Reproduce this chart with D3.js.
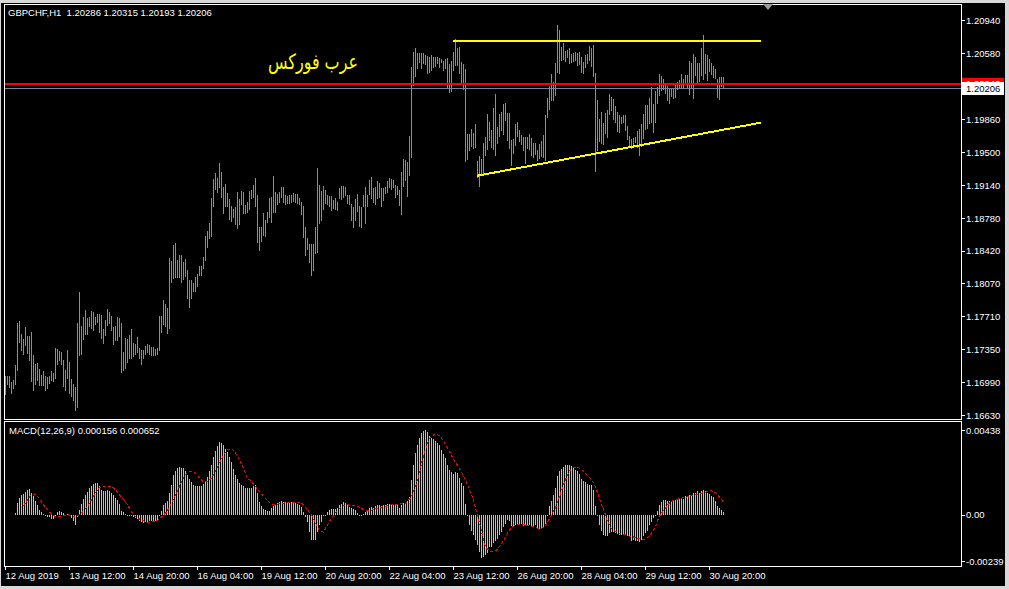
<!DOCTYPE html>
<html>
<head>
<meta charset="utf-8">
<script src="https://cdn.jsdelivr.net/npm/d3@7"></script>
<style>
html, body { margin: 0; padding: 0; background: #000; overflow: hidden; }
svg { display: block; }
svg text { font-family: "Liberation Sans", Arial, sans-serif; font-size: 9.5px; fill: #fff; white-space: pre; }
</style>
</head>
<body>
<svg id="chart" width="1009" height="589"></svg>
<script>
// ---- GBPCHF H1, 12 Aug 2019 04:00 .. 30 Aug 2019 (one entry per hourly bar) ----
const barHigh = [
1.1706,1.1706,1.1706,1.1699,1.1701,1.1718,1.1763,1.1766,1.1751,1.1746,
1.1759,1.1749,1.1749,1.1754,1.1728,1.1719,1.1720,1.1713,1.1707,1.1711,
1.1706,1.1704,1.1706,1.1711,1.1709,1.1736,1.1735,1.1733,1.1732,1.1723,
1.1712,1.1734,1.1721,1.1702,1.1697,1.1694,1.1763,1.1797,1.1760,1.1770,
1.1778,1.1769,1.1770,1.1776,1.1775,1.1770,1.1773,1.1773,1.1772,1.1757,
1.1767,1.1779,1.1775,1.1771,1.1759,1.1760,1.1770,1.1769,1.1763,1.1732,
1.1747,1.1746,1.1750,1.1757,1.1742,1.1740,1.1748,1.1736,1.1734,1.1734,
1.1738,1.1740,1.1739,1.1737,1.1737,1.1735,1.1736,1.1771,1.1771,1.1788,
1.1784,1.1780,1.1834,1.1831,1.1849,1.1851,1.1832,1.1838,1.1838,1.1830,
1.1833,1.1821,1.1810,1.1810,1.1807,1.1814,1.1817,1.1826,1.1826,1.1835,
1.1858,1.1864,1.1873,1.1900,1.1921,1.1927,1.1922,1.1938,1.1928,1.1912,
1.1915,1.1905,1.1899,1.1891,1.1888,1.1890,1.1906,1.1899,1.1907,1.1906,
1.1892,1.1895,1.1907,1.1909,1.1914,1.1922,1.1903,1.1868,1.1868,1.1883,
1.1876,1.1885,1.1900,1.1901,1.1924,1.1906,1.1904,1.1906,1.1912,1.1912,
1.1903,1.1902,1.1903,1.1903,1.1905,1.1904,1.1904,1.1900,1.1895,1.1891,
1.1868,1.1856,1.1850,1.1850,1.1850,1.1868,1.1933,1.1914,1.1907,1.1913,
1.1909,1.1903,1.1902,1.1902,1.1898,1.1900,1.1895,1.1911,1.1913,1.1913,
1.1912,1.1903,1.1903,1.1893,1.1890,1.1899,1.1904,1.1891,1.1890,1.1903,
1.1912,1.1903,1.1919,1.1923,1.1911,1.1912,1.1918,1.1916,1.1911,1.1911,
1.1912,1.1918,1.1922,1.1921,1.1919,1.1914,1.1913,1.1909,1.1928,1.1942,
1.1941,1.1939,1.1967,1.2043,1.2059,1.2063,1.2058,1.2058,1.2058,1.2058,
1.2056,1.2055,1.2054,1.2056,1.2054,1.2054,1.2054,1.2053,1.2051,1.2049,
1.2051,1.2053,1.2046,1.2049,1.2059,1.2073,1.2063,1.2065,1.2048,1.2046,
1.2041,1.1970,1.1970,1.1975,1.1971,1.1981,1.1940,1.1946,1.1942,1.1960,
1.1966,1.1991,1.1983,1.1974,1.1998,1.2013,1.1977,1.1991,1.1994,1.2002,
1.2003,1.1993,1.1993,1.1963,1.1964,1.1981,1.1983,1.1974,1.1969,1.1966,
1.1966,1.1966,1.1970,1.1965,1.1960,1.1960,1.1952,1.1959,1.1962,1.1969,
1.1990,1.2009,1.2022,1.2035,1.2026,1.2047,1.2089,1.2083,1.2065,1.2069,
1.2060,1.2061,1.2063,1.2057,1.2058,1.2059,1.2058,1.2059,1.2054,1.2048,
1.2056,1.2057,1.2066,1.2063,1.2067,1.2036,1.2007,1.1986,1.1994,1.1982,
1.1993,1.1996,1.2013,1.2010,1.2008,1.2000,1.1994,1.1990,1.1988,1.1990,
1.1990,1.1978,1.1967,1.1964,1.1965,1.1966,1.1973,1.1975,1.1981,1.1991,
1.2001,1.2001,1.2009,1.2021,1.2002,1.2017,1.2021,1.2035,1.2033,1.2030,
1.2023,1.2022,1.2020,1.2019,1.2020,1.2024,1.2026,1.2029,1.2035,1.2030,
1.2034,1.2034,1.2049,1.2047,1.2057,1.2054,1.2047,1.2047,1.2063,1.2078,
1.2057,1.2056,1.2051,1.2047,1.2044,1.2041,1.2030,1.2032,1.2032,1.20315
];
const barLow = [
1.1686,1.1697,1.1694,1.1687,1.1693,1.1697,1.1712,1.1743,1.1734,1.1730,
1.1739,1.1731,1.1723,1.1700,1.1690,1.1697,1.1701,1.1696,1.1696,1.1696,
1.1690,1.1693,1.1698,1.1701,1.1700,1.1703,1.1719,1.1723,1.1719,1.1695,
1.1690,1.1703,1.1687,1.1684,1.1679,1.1668,1.1672,1.1728,1.1730,1.1746,
1.1751,1.1751,1.1760,1.1758,1.1756,1.1762,1.1764,1.1754,1.1747,1.1742,
1.1750,1.1761,1.1763,1.1756,1.1740,1.1745,1.1745,1.1749,1.1710,1.1712,
1.1714,1.1721,1.1725,1.1725,1.1727,1.1730,1.1732,1.1725,1.1719,1.1725,
1.1730,1.1732,1.1730,1.1728,1.1728,1.1728,1.1730,1.1734,1.1754,1.1762,
1.1760,1.1752,1.1758,1.1808,1.1812,1.1814,1.1814,1.1814,1.1808,1.1811,
1.1815,1.1791,1.1781,1.1791,1.1798,1.1798,1.1804,1.1816,1.1816,1.1823,
1.1832,1.1846,1.1856,1.1858,1.1891,1.1910,1.1906,1.1912,1.1901,1.1883,
1.1891,1.1891,1.1877,1.1875,1.1879,1.1871,1.1867,1.1871,1.1893,1.1883,
1.1883,1.1885,1.1888,1.1900,1.1901,1.1891,1.1852,1.1843,1.1853,1.1859,
1.1858,1.1874,1.1879,1.1874,1.1885,1.1885,1.1893,1.1895,1.1901,1.1895,
1.1893,1.1894,1.1894,1.1895,1.1897,1.1895,1.1894,1.1893,1.1882,1.1857,
1.1838,1.1844,1.1830,1.1816,1.1821,1.1840,1.1841,1.1873,1.1876,1.1888,
1.1894,1.1893,1.1891,1.1887,1.1889,1.1888,1.1887,1.1900,1.1899,1.1901,
1.1903,1.1894,1.1893,1.1876,1.1868,1.1876,1.1886,1.1869,1.1868,1.1891,
1.1873,1.1891,1.1904,1.1900,1.1895,1.1893,1.1900,1.1901,1.1891,1.1898,
1.1905,1.1906,1.1912,1.1910,1.1912,1.1901,1.1904,1.1892,1.1882,1.1913,
1.1919,1.1902,1.1925,1.1945,1.2023,1.2033,1.2042,1.2048,1.2042,1.2047,
1.2046,1.2036,1.2037,1.2039,1.2043,1.2044,1.2047,1.2043,1.2048,1.2039,
1.2042,1.2020,1.2015,1.2017,1.2039,1.2045,1.2045,1.2036,1.2024,1.2019,
1.1940,1.1942,1.1952,1.1957,1.1954,1.1955,1.1923,1.1913,1.1925,1.1926,
1.1947,1.1953,1.1963,1.1955,1.1953,1.1947,1.1960,1.1967,1.1974,1.1970,
1.1985,1.1963,1.1954,1.1936,1.1949,1.1958,1.1967,1.1962,1.1959,1.1952,
1.1938,1.1954,1.1953,1.1947,1.1945,1.1948,1.1941,1.1943,1.1946,1.1945,
1.1941,1.1988,1.1997,1.2007,1.2007,1.2012,1.2037,1.2036,1.2050,1.2051,
1.2049,1.2054,1.2047,1.2048,1.2049,1.2050,1.2045,1.2046,1.2037,1.2036,
1.2043,1.2047,1.2050,1.2044,1.2033,1.1929,1.1952,1.1962,1.1960,1.1959,
1.1971,1.1966,1.1991,1.1996,1.1986,1.1983,1.1973,1.1972,1.1982,1.1983,
1.1974,1.1964,1.1955,1.1954,1.1957,1.1961,1.1955,1.1947,1.1957,1.1965,
1.1975,1.1976,1.1982,1.1983,1.1972,1.1983,1.2003,1.2012,1.2018,1.2019,
1.2014,1.2007,1.2003,1.2011,1.2009,1.2010,1.2019,1.2021,1.2021,1.2021,
1.2024,1.2020,1.2013,1.2021,1.2009,1.2034,1.2024,1.2027,1.2034,1.2030,
1.2036,1.2029,1.2038,1.2035,1.2032,1.2031,1.2010,1.2008,1.2022,1.20193
];

// MACD(12,26,9): main line (histogram) and signal line
const macdMain = [
null,null,null,null,null,0.00007,0.00062,0.00086,0.00100,0.00108,
0.00120,0.00129,0.00134,0.00112,0.00095,0.00072,0.00052,0.00026,0.00014,0.00003,
-0.00007,-0.00010,-0.00014,-0.00021,-0.00024,0.00001,0.00014,0.00019,0.00014,0.00007,
0.00001,0.00003,-0.00007,-0.00017,-0.00031,-0.00055,-0.00014,0.00026,0.00057,0.00079,
0.00100,0.00117,0.00138,0.00151,0.00158,0.00162,0.00163,0.00148,0.00127,0.00124,
0.00124,0.00127,0.00124,0.00115,0.00101,0.00086,0.00077,0.00055,0.00021,0.00012,
0.00005,-0.00001,-0.00003,-0.00007,-0.00010,-0.00017,-0.00024,-0.00034,-0.00040,-0.00041,
-0.00038,-0.00038,-0.00034,-0.00034,-0.00033,-0.00033,-0.00026,-0.00009,0.00021,0.00048,
0.00062,0.00072,0.00112,0.00155,0.00207,0.00227,0.00241,0.00248,0.00244,0.00241,
0.00224,0.00203,0.00184,0.00169,0.00155,0.00148,0.00148,0.00148,0.00150,0.00158,
0.00175,0.00193,0.00224,0.00258,0.00296,0.00327,0.00353,0.00375,0.00370,0.00358,
0.00341,0.00323,0.00299,0.00272,0.00237,0.00205,0.00185,0.00165,0.00155,0.00148,
0.00140,0.00136,0.00138,0.00140,0.00150,0.00152,0.00110,0.00068,0.00045,0.00030,
0.00022,0.00021,0.00021,0.00034,0.00043,0.00052,0.00060,0.00065,0.00069,0.00065,
0.00065,0.00065,0.00064,0.00064,0.00064,0.00060,0.00057,0.00052,0.00038,0.00014,
-0.00010,-0.00038,-0.00089,-0.00129,-0.00132,-0.00132,-0.00089,-0.00055,-0.00038,-0.00009,
0.00001,0.00014,0.00024,0.00029,0.00029,0.00031,0.00034,0.00048,0.00058,0.00065,
0.00060,0.00052,0.00041,0.00034,0.00031,0.00026,0.00009,0.00001,0.00001,0.00003,
0.00014,0.00022,0.00036,0.00041,0.00034,0.00043,0.00052,0.00048,0.00047,0.00052,
0.00052,0.00057,0.00057,0.00057,0.00052,0.00052,0.00048,0.00034,0.00052,0.00059,
0.00060,0.00072,0.00093,0.00181,0.00255,0.00319,0.00362,0.00396,0.00425,0.00434,
0.00438,0.00427,0.00405,0.00396,0.00393,0.00379,0.00370,0.00358,0.00336,0.00315,
0.00293,0.00258,0.00233,0.00220,0.00210,0.00220,0.00215,0.00189,0.00164,0.00150,
0.00055,0.00001,-0.00052,-0.00083,-0.00103,-0.00129,-0.00158,-0.00195,-0.00224,-0.00219,
-0.00210,-0.00198,-0.00165,-0.00165,-0.00146,-0.00134,-0.00124,-0.00107,-0.00090,-0.00065,
-0.00048,-0.00026,-0.00034,-0.00060,-0.00060,-0.00052,-0.00048,-0.00048,-0.00048,-0.00060,
-0.00052,-0.00055,-0.00052,-0.00060,-0.00059,-0.00055,-0.00069,-0.00072,-0.00072,-0.00062,
-0.00048,-0.00003,0.00047,0.00072,0.00103,0.00138,0.00198,0.00224,0.00238,0.00245,
0.00258,0.00258,0.00258,0.00250,0.00241,0.00233,0.00224,0.00210,0.00184,0.00172,
0.00169,0.00158,0.00155,0.00155,0.00129,0.00047,-0.00003,-0.00052,-0.00083,-0.00103,
-0.00112,-0.00109,-0.00095,-0.00090,-0.00090,-0.00095,-0.00100,-0.00103,-0.00103,-0.00105,
-0.00103,-0.00109,-0.00117,-0.00134,-0.00131,-0.00136,-0.00138,-0.00141,-0.00129,-0.00109,
-0.00095,-0.00083,-0.00052,-0.00038,-0.00017,-0.00003,0.00021,0.00052,0.00065,0.00074,
0.00078,0.00072,0.00069,0.00072,0.00078,0.00074,0.00083,0.00083,0.00083,0.00083,
0.00095,0.00090,0.00100,0.00095,0.00112,0.00115,0.00121,0.00115,0.00121,0.00129,
0.00121,0.00115,0.00109,0.00098,0.00090,0.00072,0.00047,0.00034,0.00026,0.000156
];
const macdSignal = [
null,null,null,null,null,null,null,null,null,0.00047,
0.00062,0.00078,0.00093,0.00103,0.00105,0.00103,0.00095,0.00083,0.00067,0.00052,
0.00038,0.00026,0.00014,0.00003,-0.00003,-0.00010,-0.00012,-0.00010,-0.00007,-0.00003,
-0.00002,0.00000,-0.00002,-0.00003,-0.00007,-0.00009,-0.00005,0.00000,0.00009,0.00021,
0.00031,0.00043,0.00060,0.00078,0.00095,0.00112,0.00127,0.00141,0.00145,0.00146,
0.00146,0.00146,0.00146,0.00146,0.00138,0.00129,0.00117,0.00103,0.00090,0.00078,
0.00065,0.00052,0.00033,0.00014,0.00002,-0.00009,-0.00016,-0.00022,-0.00028,-0.00031,
-0.00034,-0.00038,-0.00038,-0.00038,-0.00036,-0.00034,-0.00028,-0.00021,-0.00012,-0.00003,
0.00009,0.00022,0.00041,0.00060,0.00083,0.00103,0.00124,0.00146,0.00169,0.00189,
0.00207,0.00220,0.00222,0.00224,0.00220,0.00215,0.00203,0.00189,0.00179,0.00169,
0.00171,0.00172,0.00181,0.00189,0.00207,0.00224,0.00245,0.00267,0.00289,0.00310,
0.00324,0.00336,0.00339,0.00341,0.00331,0.00319,0.00301,0.00284,0.00264,0.00241,
0.00215,0.00189,0.00181,0.00172,0.00158,0.00146,0.00133,0.00121,0.00107,0.00095,
0.00083,0.00072,0.00062,0.00052,0.00052,0.00052,0.00055,0.00057,0.00059,0.00060,
0.00064,0.00065,0.00065,0.00065,0.00065,0.00065,0.00065,0.00065,0.00059,0.00052,
0.00038,0.00026,0.00012,-0.00003,-0.00022,-0.00043,-0.00064,-0.00083,-0.00086,-0.00090,
-0.00071,-0.00052,-0.00034,-0.00017,-0.00003,0.00010,0.00022,0.00034,0.00041,0.00048,
0.00050,0.00052,0.00050,0.00048,0.00048,0.00047,0.00043,0.00038,0.00033,0.00026,
0.00021,0.00021,0.00021,0.00024,0.00028,0.00031,0.00034,0.00038,0.00040,0.00041,
0.00043,0.00047,0.00048,0.00052,0.00053,0.00053,0.00055,0.00055,0.00057,0.00059,
0.00059,0.00069,0.00081,0.00095,0.00121,0.00146,0.00181,0.00215,0.00267,0.00301,
0.00336,0.00370,0.00393,0.00403,0.00412,0.00417,0.00415,0.00408,0.00396,0.00379,
0.00362,0.00344,0.00327,0.00305,0.00288,0.00272,0.00255,0.00238,0.00219,0.00202,
0.00181,0.00155,0.00129,0.00107,0.00072,0.00034,-0.00009,-0.00043,-0.00086,-0.00129,
-0.00164,-0.00177,-0.00186,-0.00189,-0.00189,-0.00186,-0.00177,-0.00165,-0.00150,-0.00133,
-0.00117,-0.00095,-0.00079,-0.00065,-0.00060,-0.00055,-0.00050,-0.00048,-0.00048,-0.00050,
-0.00052,-0.00055,-0.00057,-0.00060,-0.00062,-0.00065,-0.00069,-0.00069,-0.00069,-0.00065,
-0.00060,-0.00038,-0.00021,0.00000,0.00017,0.00034,0.00069,0.00095,0.00126,0.00155,
0.00181,0.00207,0.00224,0.00239,0.00245,0.00246,0.00246,0.00241,0.00233,0.00224,
0.00215,0.00203,0.00193,0.00179,0.00164,0.00146,0.00112,0.00086,0.00052,0.00026,
0.00000,-0.00034,-0.00052,-0.00072,-0.00081,-0.00086,-0.00091,-0.00095,-0.00098,-0.00102,
-0.00103,-0.00107,-0.00110,-0.00112,-0.00115,-0.00117,-0.00121,-0.00124,-0.00129,-0.00129,
-0.00129,-0.00119,-0.00109,-0.00095,-0.00078,-0.00060,-0.00029,-0.00009,0.00009,0.00022,
0.00034,0.00050,0.00062,0.00069,0.00074,0.00078,0.00081,0.00083,0.00086,0.00088,
0.00090,0.00093,0.00096,0.00100,0.00102,0.00103,0.00107,0.00109,0.00112,0.00114,
0.00115,0.00121,0.00122,0.00124,0.00121,0.00114,0.00102,0.00091,0.00079,0.000652
];

// axis labels
const priceTicks = [1.20940, 1.20580, 1.19860, 1.19500, 1.19140, 1.18780, 1.18420, 1.18070, 1.17710, 1.17350, 1.16990, 1.16630];
const macdTicks = [0.00438, 0, -0.00239];
const timeTickBars = [0, 32, 64, 96, 128, 160, 192, 224, 256, 288, 320, 352];
const timeLabels = ["12 Aug 2019", "13 Aug 12:00", "14 Aug 20:00", "16 Aug 04:00", "19 Aug 12:00", "20 Aug 20:00",
                    "22 Aug 04:00", "23 Aug 12:00", "26 Aug 20:00", "28 Aug 04:00", "29 Aug 12:00", "30 Aug 20:00"];

// quotes and hand-drawn objects
const quoteOHLC = [1.20286, 1.20315, 1.20193, 1.20206];
const bidPrice = 1.20206;
const askPrice = 1.20240;
const resistanceBars = [224, 378];
const resistancePrices = [1.2071, 1.2071];
const supportBars = [236, 378];
const supportPrices = [1.1924, 1.1982];
const captionText = "عرب فوركس";

// ---- layout ----
const W = 1009, H = 589;
const frameL = 4, frameR = 961;
const mainTop = 4, mainBottom = 419, subTop = 421, subBottom = 566;

const svg = d3.select("#chart");

const x = d3.scaleLinear().domain([0, barHigh.length - 1]).range([5, 723]);
const y = d3.scaleLinear().domain([1.16630, 1.20940]).range([415, 20]);
const ym = d3.scaleLinear().domain([-0.00239, 0.00438]).range([561, 430]);

// window edges
svg.append("rect").attr("x", 0).attr("y", 0).attr("width", W).attr("height", H).attr("fill", "#d8d8d8");
svg.append("rect").attr("x", 1).attr("y", 3).attr("width", 1004).attr("height", 583).attr("fill", "#000");

// panel frames
const frames = svg.append("g").attr("fill", "none").attr("stroke", "#fff").attr("shape-rendering", "crispEdges");
frames.append("rect").attr("x", frameL + 0.5).attr("y", mainTop + 0.5).attr("width", frameR - frameL).attr("height", mainBottom - mainTop);
frames.append("rect").attr("x", frameL + 0.5).attr("y", subTop + 0.5).attr("width", frameR - frameL).attr("height", subBottom - subTop);

// chart-shift marker
svg.append("path").attr("d", "M763,4 L773,4 L768,10 Z").attr("fill", "#9a9a9a");

// price bars (high-low)
const bars = barHigh.map((h, i) => ({ i, h, l: barLow[i] }));
svg.append("g").attr("shape-rendering", "crispEdges").selectAll("rect").data(bars).join("rect")
  .attr("x", d => Math.round(x(d.i)))
  .attr("y", d => Math.round(y(d.h)))
  .attr("width", 1)
  .attr("height", d => Math.max(1, Math.round(y(d.l)) - Math.round(y(d.h)) + 1))
  .attr("fill", "#32cd32");

// ask line (2 px) and bid line
svg.append("rect").attr("x", frameL + 1).attr("width", frameR - frameL - 1)
  .attr("y", Math.round(y(askPrice)) - 1).attr("height", 2)
  .attr("fill", "#ff0000").attr("shape-rendering", "crispEdges");
svg.append("rect").attr("x", frameL + 1).attr("width", frameR - frameL - 1)
  .attr("y", Math.round(y(bidPrice)) + 1).attr("height", 1)
  .attr("fill", "#778899").attr("shape-rendering", "crispEdges");

// trend lines
const trend = d3.line().x(d => x(d[0])).y(d => y(d[1]));
svg.append("path").attr("d", trend(d3.zip(resistanceBars, resistancePrices)))
  .attr("stroke", "#ffff00").attr("stroke-width", 2).attr("fill", "none").attr("shape-rendering", "crispEdges");
svg.append("path").attr("d", trend(d3.zip(supportBars, supportPrices)))
  .attr("stroke", "#ffff00").attr("stroke-width", 2).attr("fill", "none").attr("shape-rendering", "crispEdges");

// caption
svg.append("text").attr("x", 313).attr("y", 69).attr("text-anchor", "middle")
  .attr("textLength", 90).attr("lengthAdjust", "spacingAndGlyphs")
  .style("font-family", "'DejaVu Sans', sans-serif").style("font-size", "21px").style("fill", "#ffff00")
  .text(captionText);

// title
svg.append("text").attr("x", 8).attr("y", 16)
  .text("GBPCHF,H1  " + quoteOHLC.map(v => v.toFixed(5)).join(" "));

// MACD histogram
const zeroY = Math.round(ym(0));
const hist = macdMain.map((v, i) => ({ i, v })).filter(d => d.v !== null);
svg.append("g").attr("shape-rendering", "crispEdges").selectAll("rect").data(hist).join("rect")
  .attr("x", d => Math.round(x(d.i)))
  .attr("y", d => d.v >= 0 ? Math.round(ym(d.v)) : zeroY)
  .attr("width", 1)
  .attr("height", d => Math.max(1, Math.abs(Math.round(ym(d.v)) - zeroY)))
  .attr("fill", "#c0c0c0");

// MACD signal line
const sig = macdSignal.map((v, i) => ({ i, v }));
svg.append("path")
  .attr("d", d3.line().defined(d => d.v !== null).x(d => x(d.i) + 0.5).y(d => ym(d.v))(sig))
  .attr("fill", "none").attr("stroke", "#ff0000").attr("stroke-width", 1)
  .attr("stroke-dasharray", "3,2").attr("shape-rendering", "crispEdges");

svg.append("text").attr("x", 9).attr("y", 434)
  .text("MACD(12,26,9) " + macdMain[macdMain.length - 1].toFixed(6) + " " + macdSignal[macdSignal.length - 1].toFixed(6));

// price axis
function styleAxis(g) {
  g.attr("font-family", null).attr("font-size", null);
  g.select(".domain").remove();
  g.selectAll(".tick line").attr("stroke", "#fff").attr("shape-rendering", "crispEdges");
  g.selectAll(".tick text").style("fill", "#fff");
}
svg.append("g").attr("transform", `translate(${frameR},0)`)
  .call(d3.axisRight(y).tickValues(priceTicks).tickFormat(v => v.toFixed(5)).tickSize(4).tickPadding(1))
  .call(styleAxis);

// MACD axis
svg.append("g").attr("transform", `translate(${frameR},0)`)
  .call(d3.axisRight(ym).tickValues(macdTicks).tickFormat(v => v === 0 ? "0.00" : v.toFixed(5)).tickSize(4).tickPadding(1))
  .call(styleAxis);

// time axis
svg.append("g").attr("transform", `translate(0,${subBottom})`)
  .call(d3.axisBottom(x).tickValues(timeTickBars).tickFormat((d, k) => timeLabels[k]).tickSize(4).tickPadding(2))
  .call(styleAxis)
  .call(g => g.selectAll(".tick text").attr("text-anchor", "start"));

// ask / bid price tags; the bid tag sits on top, leaving only a strip of the ask tag visible
const askTop = Math.round(y(askPrice)) - 6;
const bidTop = Math.round(y(bidPrice)) - 5;
svg.append("clipPath").attr("id", "askStrip")
  .append("rect").attr("x", frameR + 1).attr("y", askTop).attr("width", 42).attr("height", bidTop - askTop);
const askTag = svg.append("g").attr("clip-path", "url(#askStrip)");
askTag.append("rect").attr("x", frameR + 1).attr("y", askTop).attr("width", 42).attr("height", 13)
  .attr("fill", "#ff0000").attr("shape-rendering", "crispEdges");
askTag.append("text").attr("x", frameR + 5).attr("y", y(askPrice)).attr("dy", "0.35em").style("fill", "#fff").text(askPrice.toFixed(5));

svg.append("rect").attr("x", frameR + 1).attr("y", bidTop).attr("width", 42).attr("height", 13)
  .attr("fill", "#fff").attr("shape-rendering", "crispEdges");
svg.append("text").attr("x", frameR + 5).attr("y", y(bidPrice) + 1).attr("dy", "0.35em").style("fill", "#000").text(bidPrice.toFixed(5));
</script>
</body>
</html>
